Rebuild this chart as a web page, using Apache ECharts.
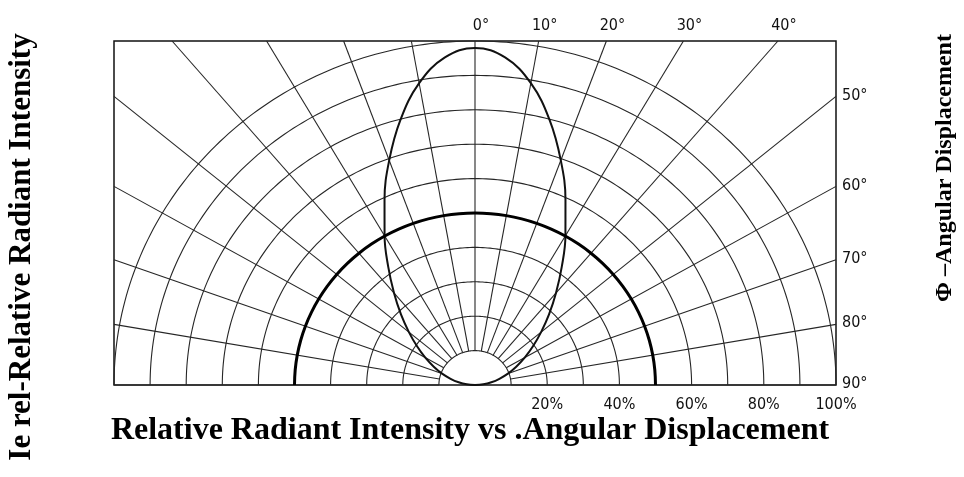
<!DOCTYPE html>
<html>
<head>
<meta charset="utf-8">
<script src="https://cdn.jsdelivr.net/npm/echarts@6/dist/echarts.min.js"></script>
<style>
html,body{margin:0;padding:0;background:#fff;}
#chart{width:964px;height:477px;}
</style>
</head>
<body>
<div id="chart"></div>
<script>
// Angles (degrees from the vertical axis) at which the curves were read
const angles = [-90,-85,-80,-75,-70,-65,-60,-55,-50,-45,-40,-35,-30,-25,-20,-15,-10,-5,0,5,10,15,20,25,30,35,40,45,50,55,60,65,70,75,80,85,90];
// Narrow lobe: relative radiant intensity (0..1)
const lobeIntensity = [0,0.023,0.046,0.070,0.097,0.126,0.159,0.196,0.239,0.290,0.349,0.419,0.501,0.593,0.695,0.798,0.891,0.956,0.980,0.956,0.891,0.798,0.695,0.593,0.501,0.419,0.349,0.290,0.239,0.196,0.159,0.126,0.097,0.070,0.046,0.023,0];
// Wide (thick) pattern: relative radiant intensity (0..1)
const wideIntensity = [0.5,0.5,0.5,0.5,0.5,0.5,0.5,0.5,0.5,0.5,0.5,0.5,0.5,0.5,0.5,0.5,0.5,0.5,0.5,0.5,0.5,0.5,0.5,0.5,0.5,0.5,0.5,0.5,0.5,0.5,0.5,0.5,0.5,0.5,0.5,0.5,0.5];
// Polar grid
const gridRadii = [0.1,0.2,0.3,0.4,0.5,0.6,0.7,0.8,0.9,1.0];
const gridAngles = [-90,-80,-70,-60,-50,-40,-30,-20,-10,0,10,20,30,40,50,60,70,80,90];
const angleLabels = [0,10,20,30,40,50,60,70,80,90];
const pctTicks = [20,40,60,80,100];

const rad = d => d * Math.PI / 180;
const toXY = (a, r) => [r * Math.sin(rad(a)), r * Math.cos(rad(a))];

const lobeData = angles.map((a, i) => toXY(a, lobeIntensity[i]));
const wideData = angles.map((a, i) => toXY(a, wideIntensity[i]));

const LABEL_FONT = "'Liberation Sans Narrow','DejaVu Sans Condensed','Arial Narrow',sans-serif";
const GRID_COLOR = '#262626';

const chart = echarts.init(document.getElementById('chart'), null, {renderer: 'canvas'});

const option = {
  backgroundColor: '#fff',
  animation: false,
  grid: {
    left: 114, right: 128, top: 41, bottom: 92,
    show: true, borderColor: '#111', borderWidth: 1.5, backgroundColor: 'transparent'
  },
  xAxis: {
    type: 'value', min: -1, max: 1, interval: 0.2,
    axisLine: {show: false}, axisTick: {show: false}, splitLine: {show: false},
    axisLabel: {
      margin: 12,
      fontFamily: LABEL_FONT, fontSize: 16, color: '#111',
      formatter: v => {
        const p = Math.round(v * 100);
        return pctTicks.indexOf(p) >= 0 ? p + '%' : '';
      }
    }
  },
  yAxis: {
    type: 'value', min: 0, max: 1,
    show: false
  },
  series: [
    {
      type: 'custom', name: 'circles', silent: true, z: 1,
      data: gridRadii.map(r => [r, 0]),
      renderItem: (params, api) => {
        const r = api.value(0);
        const pts = [];
        for (let a = -90; a <= 90; a += 1) pts.push(api.coord(toXY(a, r)));
        return {type: 'polyline', shape: {points: pts},
          style: {stroke: GRID_COLOR, lineWidth: 1.1, fill: null}};
      }
    },
    {
      type: 'custom', name: 'spokes', silent: true, z: 1,
      data: gridAngles.map(a => [a, 0]),
      renderItem: (params, api) => {
        const a = api.value(0);
        const s = Math.abs(Math.sin(rad(a))), c = Math.cos(rad(a));
        const tEdge = Math.min(s > 1e-9 ? 1 / s : Infinity, c > 1e-9 ? 1 / c : Infinity);
        const p0 = api.coord(toXY(a, 0.1));
        const p1 = api.coord(toXY(a, tEdge));
        return {type: 'line', shape: {x1: p0[0], y1: p0[1], x2: p1[0], y2: p1[1]},
          style: {stroke: GRID_COLOR, lineWidth: 1.1}};
      }
    },
    {
      type: 'custom', name: 'angleLabels', silent: true, z: 5,
      data: angleLabels.map(a => [a, 0]),
      renderItem: (params, api) => {
        const a = api.value(0);
        const s = Math.abs(Math.sin(rad(a))), c = Math.cos(rad(a));
        const tEdge = Math.min(s > 1e-9 ? 1 / s : Infinity, c > 1e-9 ? 1 / c : Infinity);
        const p = api.coord(toXY(a, tEdge));
        const top = c > 1e-9 && (1 / c) <= (s > 1e-9 ? 1 / s : Infinity);
        return {type: 'text',
          style: top ? {
            text: a + '°', x: p[0] + 6, y: p[1] - 15, align: 'center', verticalAlign: 'middle',
            font: '16px ' + LABEL_FONT, fill: '#111'
          } : {
            text: a + '°', x: p[0] + 6, y: p[1] - 1, align: 'left', verticalAlign: 'middle',
            font: '16px ' + LABEL_FONT, fill: '#111'
          }};
      }
    },
    {
      type: 'line', name: 'lobe', data: lobeData, smooth: 0.4, showSymbol: false, z: 3,
      lineStyle: {color: '#111', width: 2}
    },
    {
      type: 'line', name: 'wide', data: wideData, smooth: 0.4, showSymbol: false, z: 3,
      lineStyle: {color: '#000', width: 3}
    }
  ],
  graphic: [
    {
      type: 'text', x: 22, y: 247, rotation: Math.PI / 2,
      style: {text: 'Ie rel-Relative Radiant Intensity', align: 'center', verticalAlign: 'middle',
        font: 'bold 31px "Liberation Serif","Times New Roman",serif', fill: '#000'}
    },
    {
      type: 'text', x: 945, y: 168, rotation: Math.PI / 2,
      style: {text: 'Φ –Angular Displacement', align: 'center', verticalAlign: 'middle',
        font: 'bold 24px "Liberation Serif","Times New Roman",serif', fill: '#000'}
    },
    {
      type: 'text', x: 470, y: 431,
      style: {text: 'Relative Radiant Intensity vs .Angular Displacement', align: 'center', verticalAlign: 'middle',
        font: 'bold 32px "Liberation Serif","Times New Roman",serif', fill: '#000'}
    }
  ]
};
chart.setOption(option);
</script>
</body>
</html>
